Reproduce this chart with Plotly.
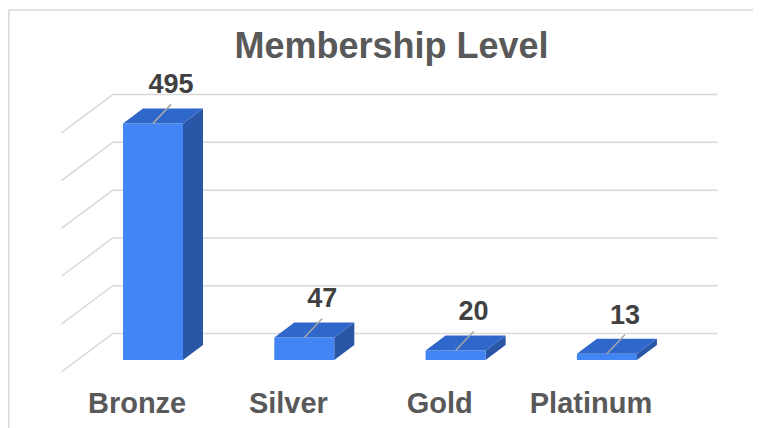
import plotly.graph_objects as go

# ---- data ----
categories = ["Bronze", "Silver", "Gold", "Platinum"]
values = [495, 47, 20, 13]
gridline_values = [0, 100, 200, 300, 400, 500]

# ---- geometry / style constants (pixel based pseudo-3D) ----
PAGE_OFF = 8          # browser body margin
W, H = 761 - PAGE_OFF, 428 - PAGE_OFF
M_L, M_R, M_T, M_B = 32, 13, 52, 47
PX_CAT = 151.3        # pixels per category
PX_VAL = 0.478        # pixels per value unit
X0_PX = 153 - PAGE_OFF    # figure pixel x of category 0 (bar front plane)
Y0_PX = 360 - PAGE_OFF    # figure pixel y of value 0 (bar front plane)
BAR_W_PX = 60
FLOOR_DX, FLOOR_DY = 51.3, 38.3   # full depth shift (px)
BAR_D0, BAR_D1 = 0.31, 0.70       # bar depth span in floor-depth fractions

FONT = "Liberation Sans, Arial, sans-serif"
FRONT = "#4285F4"
TOP = "#3067CB"
SIDE = "#2A56A8"
GRID = "#D9D9D9"

plot_w = W - M_L - M_R
plot_h = H - M_T - M_B
x_lo = (M_L - X0_PX) / PX_CAT
x_hi = x_lo + plot_w / PX_CAT
y_lo = (Y0_PX - (H - M_B)) / PX_VAL
y_hi = y_lo + plot_h / PX_VAL


def depth_shift(d):
    """shift (in data units) from bar-front plane to floor depth d"""
    return ((d - BAR_D0) * FLOOR_DX / PX_CAT, (d - BAR_D0) * FLOOR_DY / PX_VAL)


def px_to_paper(px, py):
    return (px - M_L) / plot_w, ((H - M_B) - py) / plot_h


shapes = []

# back wall gridlines and left wall diagonals
bx, by = depth_shift(1.0)
fx, fy = depth_shift(0.0)
left_x = -0.5
right_x = len(categories) - 0.5
for g in gridline_values:
    shapes.append(dict(type="line", xref="x", yref="y", layer="below",
                       x0=left_x + bx, y0=g + by, x1=right_x + bx, y1=g + by,
                       line=dict(color=GRID, width=1.5)))
    shapes.append(dict(type="line", xref="x", yref="y", layer="below",
                       x0=left_x + fx, y0=g + fy, x1=left_x + bx, y1=g + by,
                       line=dict(color=GRID, width=1.5)))

# bar side and top faces
bw = BAR_W_PX / PX_CAT
ddx, ddy = depth_shift(BAR_D1)
for i, v in enumerate(values):
    xl, xr = i - bw / 2, i + bw / 2
    side = (f"M {xr},0 L {xr},{v} L {xr + ddx},{v + ddy} "
            f"L {xr + ddx},{ddy} Z")
    top = (f"M {xl},{v} L {xr},{v} L {xr + ddx},{v + ddy} "
           f"L {xl + ddx},{v + ddy} Z")
    shapes.append(dict(type="path", path=side, xref="x", yref="y",
                       fillcolor=SIDE, line=dict(width=0), layer="above"))
    shapes.append(dict(type="path", path=top, xref="x", yref="y",
                       fillcolor=TOP, line=dict(width=0), layer="above"))
    # leader line
    shapes.append(dict(type="line", xref="x", yref="y", layer="above",
                       x0=i, y0=v, x1=i + 18 / PX_CAT, y1=v + 19 / PX_VAL,
                       line=dict(color="#A6A6A6", width=1.5)))

# chart frame (partially cropped)
p0 = px_to_paper(0.75, 2)
p1 = px_to_paper(W + 5, 2)
p2 = px_to_paper(0.75, H + 5)
shapes.append(dict(type="line", xref="paper", yref="paper", x0=p0[0], y0=p0[1],
                   x1=p1[0], y1=p1[1], line=dict(color=GRID, width=1.5)))
shapes.append(dict(type="line", xref="paper", yref="paper", x0=p0[0], y0=p0[1],
                   x1=p2[0], y1=p2[1], line=dict(color=GRID, width=1.5)))

fig = go.Figure()
fig.add_trace(go.Bar(
    x=list(range(len(categories))), y=values, width=bw,
    marker=dict(color=FRONT, line=dict(width=0)),
    hoverinfo="skip",
))
fig.add_trace(go.Scatter(
    x=[i + 18 / PX_CAT for i in range(len(values))],
    y=[v + 37 / PX_VAL for v in values],
    mode="text", text=[str(v) for v in values],
    textposition="middle center",
    textfont=dict(family=FONT, size=27, color="#404040", weight="bold"),
    hoverinfo="skip", cliponaxis=False,
))

tick_shift = depth_shift(0.0)[0]
fig.update_layout(
    width=W, height=H,
    margin=dict(l=M_L, r=M_R, t=M_T, b=M_B, autoexpand=False),
    paper_bgcolor="white", plot_bgcolor="white",
    showlegend=False,
    shapes=shapes,
    title=dict(text="<b>Membership Level</b>", x=(391.5 - PAGE_OFF) / W,
               xanchor="center", y=1 - (45 - PAGE_OFF) / H, yanchor="middle",
               yref="container",
               font=dict(family=FONT, size=36, color="#595959")),
    xaxis=dict(range=[x_lo, x_hi], showgrid=False, zeroline=False,
               tickvals=[i + tick_shift for i in range(len(categories))],
               ticktext=categories, ticks="", showline=False,
               ticklabelstandoff=2, automargin=False,
               tickfont=dict(family=FONT, size=29, color="#595959", weight="bold")),
    yaxis=dict(range=[y_lo, y_hi], showgrid=False, zeroline=False,
               showticklabels=False, ticks="", showline=False, automargin=False),
)

fig.write_html("out.html")
